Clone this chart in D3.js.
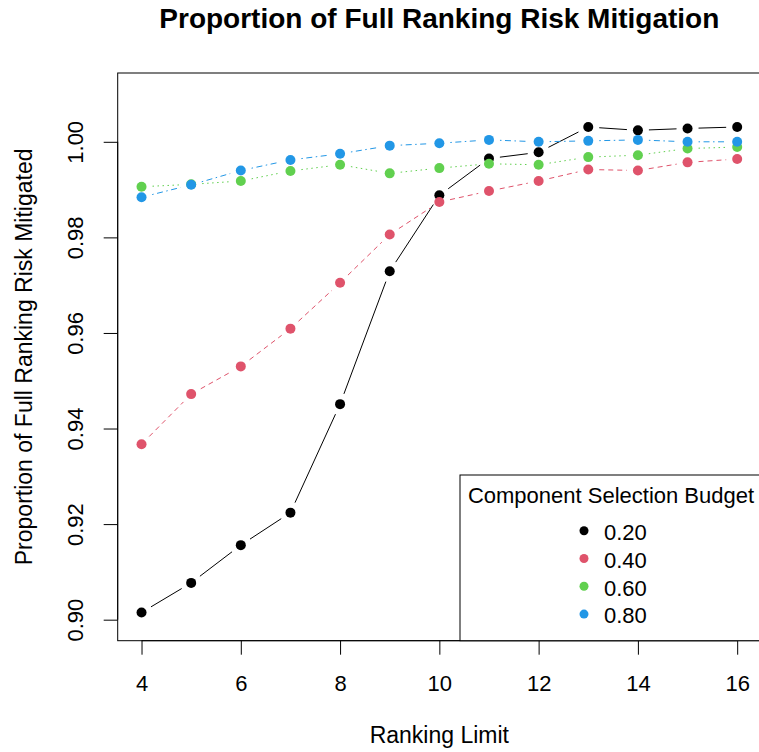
<!DOCTYPE html>
<html>
<head>
<meta charset="utf-8">
<script src="https://cdn.jsdelivr.net/npm/d3@7"></script>
<style>
  html, body { margin: 0; padding: 0; background: #fff; }
  svg { display: block; font-family: "Liberation Sans", Arial, sans-serif; }
</style>
</head>
<body>
<svg id="chart" width="759" height="752"></svg>
<script>
// ---- data ----
const rankingLimits = [4, 5, 6, 7, 8, 9, 10, 11, 12, 13, 14, 15, 16];
const budgets = ["0.20", "0.40", "0.60", "0.80"];
const budget020 = [0.9015, 0.9077, 0.9156, 0.9224, 0.9451, 0.9729, 0.9888, 0.9965, 0.9978, 1.0031, 1.0024, 1.0028, 1.0031];
const budget040 = [0.9367, 0.9472, 0.9530, 0.9609, 0.9705, 0.9806, 0.9874, 0.9897, 0.9918, 0.9942, 0.9940, 0.9957, 0.9964];
const budget060 = [0.9906, 0.9911, 0.9918, 0.9939, 0.9952, 0.9934, 0.9945, 0.9954, 0.9952, 0.9968, 0.9972, 0.9986, 0.9989];
const budget080 = [0.9884, 0.9910, 0.9940, 0.9962, 0.9975, 0.9992, 0.9997, 1.0004, 1.0000, 1.0002, 1.0004, 1.0000, 1.0000];
const seriesValues = [budget020, budget040, budget060, budget080];
const xTicks = [4, 6, 8, 10, 12, 14, 16];
const yTicks = [0.90, 0.92, 0.94, 0.96, 0.98, 1.00];
const seriesColors = ["#000000", "#DF536B", "#61D04F", "#2297E6"];
const seriesDash = [null, "5,4", "1.5,3.5", "1.5,3.5,6,3.5"];

// ---- layout ----
const svg = d3.select("#chart");
const plotL = 117.7, plotR = 761, plotT = 73, plotB = 640.7;

const xlim = [4, 16], ylim = [0.90, 1.01];
const xe = (xlim[1] - xlim[0]) * 0.04, ye = (ylim[1] - ylim[0]) * 0.04;
const x = d3.scaleLinear().domain([xlim[0] - xe, xlim[1] + xe]).range([plotL, plotR]);
const y = d3.scaleLinear().domain([ylim[0] - ye, ylim[1] + ye]).range([plotB, plotT]);

// title
svg.append("text").attr("x", (plotL + plotR) / 2).attr("y", 28)
  .attr("text-anchor", "middle").attr("font-size", 28).attr("font-weight", "bold")
  .text("Proportion of Full Ranking Risk Mitigation");

// series lines (type = "b": segments with gaps round points)
const gap = 11;
seriesValues.forEach((vals, si) => {
  const pts = rankingLimits.map((r, i) => [x(r), y(vals[i])]);
  const g = svg.append("g");
  for (let i = 0; i < pts.length - 1; i++) {
    const [x0, y0] = pts[i], [x1, y1] = pts[i + 1];
    const dx = x1 - x0, dy = y1 - y0, d = Math.hypot(dx, dy);
    if (d <= 2 * gap) continue;
    const ux = dx / d, uy = dy / d;
    const ln = g.append("line")
      .attr("x1", x0 + ux * gap).attr("y1", y0 + uy * gap)
      .attr("x2", x1 - ux * gap).attr("y2", y1 - uy * gap)
      .attr("stroke", seriesColors[si]).attr("stroke-width", 1);
    if (seriesDash[si]) ln.attr("stroke-dasharray", seriesDash[si]);
  }
  g.selectAll("circle").data(pts).join("circle")
    .attr("cx", d => d[0]).attr("cy", d => d[1]).attr("r", 5)
    .attr("fill", seriesColors[si]);
});

// box
svg.append("rect").attr("x", plotL).attr("y", plotT)
  .attr("width", plotR - plotL).attr("height", plotB - plotT)
  .attr("fill", "none").attr("stroke", "#000").attr("stroke-width", 1);

// axes
const xAxis = d3.axisBottom(x).tickValues(xTicks).tickSize(14).tickFormat(d3.format("d"));
const gx = svg.append("g").attr("transform", `translate(0,${plotB})`).call(xAxis);
gx.select(".domain").attr("d", `M${x(xTicks[0])},0H${x(xTicks[xTicks.length - 1])}`);
gx.selectAll("text").attr("font-size", 22).attr("font-family", "Liberation Sans, Arial, sans-serif")
  .attr("fill", "#000").attr("y", 50).attr("dy", null);

const yAxis = d3.axisLeft(y).tickValues(yTicks).tickSize(14).tickFormat(d3.format(".2f"));
const gy = svg.append("g").attr("transform", `translate(${plotL},0)`).call(yAxis);
gy.select(".domain").attr("d", `M0,${y(yTicks[0])}V${y(yTicks[yTicks.length - 1])}`);
gy.selectAll(".tick text").attr("font-size", 22).attr("font-family", "Liberation Sans, Arial, sans-serif")
  .attr("fill", "#000").attr("x", null).attr("dy", null)
  .attr("text-anchor", "middle")
  .attr("transform", "translate(-34.7,0) rotate(-90)");
svg.selectAll(".domain, .tick line").attr("stroke", "#000");

// axis labels
svg.append("text").attr("x", (plotL + plotR) / 2).attr("y", 743)
  .attr("text-anchor", "middle").attr("font-size", 23).text("Ranking Limit");
svg.append("text").attr("transform", `translate(32,${(plotT + plotB) / 2}) rotate(-90)`)
  .attr("text-anchor", "middle").attr("font-size", 23).text("Proportion of Full Ranking Risk Mitigated");

// legend
const lg = svg.append("g");
lg.append("rect").attr("x", 460).attr("y", 475).attr("width", plotR - 460).attr("height", plotB - 475)
  .attr("fill", "#fff").attr("stroke", "#000").attr("stroke-width", 1);
lg.append("text").attr("x", 611).attr("y", 503).attr("text-anchor", "middle")
  .attr("font-size", 22).text("Component Selection Budget");
budgets.forEach((b, i) => {
  const cy = 530.7 + i * 27.8;
  lg.append("circle").attr("cx", 584).attr("cy", cy).attr("r", 4.5).attr("fill", seriesColors[i]);
  lg.append("text").attr("x", 604).attr("y", cy + 9.3).attr("font-size", 22).text(b);
});
</script>
</body>
</html>
